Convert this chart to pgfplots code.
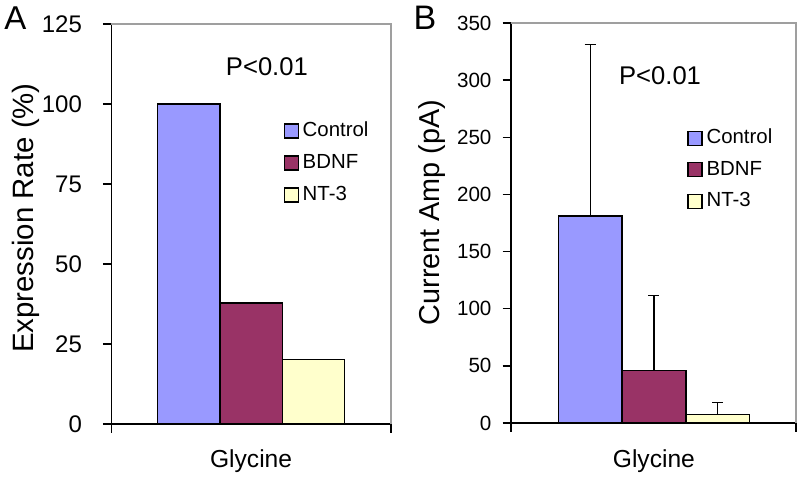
\documentclass[border=0pt]{standalone}
\usepackage{pgfplots}
\pgfplotsset{compat=1.18}
\usepackage{fontspec}
\setmainfont{Liberation Sans}
\definecolor{ctrl}{HTML}{9999FF}
\definecolor{bdnf}{HTML}{993366}
\definecolor{ntc}{HTML}{FFFFCC}
\pgfplotsset{
  sq/.style={legend image code/.code={\draw[##1, line width=0.6pt] (0pt,-3.5pt) rectangle (7pt,3.5pt);}},
  mybar/.style={ybar, bar width=1, bar shift=0pt, draw=black, line width=0.7pt, sq},
  myaxis/.style={
    scale only axis,
    axis x line*=bottom, axis y line*=left,
    axis line style={-, line width=0.7pt, black},
    tick align=outside,
    major tick length=4.25pt,
    every tick/.style={black, line width=0.7pt},
    ymin=0,
    xticklabels={},
    /pgf/number format/assume math mode=true,
    clip=false,
    legend cell align=left,
    legend style={draw=none, fill=none, anchor=north west, inner sep=0pt,
      font=\fontsize{10.2}{12}\selectfont, row sep=6.5pt, column sep=2pt,
      nodes={inner sep=0pt, text height=7.5pt, text depth=2pt}},
  }
}
\begin{document}
\begin{tikzpicture}
% Panel A
\begin{axis}[myaxis,
  at={(55.75pt,-212pt)}, anchor=south west,
  width=139.75pt, height=200pt,
  xmin=-2.24, xmax=2.245, xtick={-2.24,2.245},
  ymax=125, ytick={0,25,50,75,100,125},
  yticklabel style={font=\fontsize{12}{14}\selectfont, xshift=-7pt},
  legend style={at={(rel axis cs:0.614,0.7575)}},
]
\draw[gray!75, line width=0.7pt] (rel axis cs:0,1) -- (rel axis cs:1,1) -- (rel axis cs:1,0);
\addplot[mybar, fill=ctrl] coordinates {(-1,100)};
\addplot[mybar, fill=bdnf] coordinates {(0,37.8)};
\addplot[mybar, fill=ntc] coordinates {(1,20.2)};
\legend{Control,BDNF,NT-3}
\node[font=\fontsize{12.8}{15}\selectfont] at (rel axis cs:0.556,0.8925) {P<0.01};
\node[font=\fontsize{12.3}{14}\selectfont, anchor=base] at (axis cs:0,0) [yshift=-21.5pt] {Glycine};
\end{axis}
% Panel B
\begin{axis}[myaxis,
  at={(255.5pt,-211.5pt)}, anchor=south west,
  width=142.5pt, height=200pt,
  xmin=-2.24, xmax=2.227, xtick={-2.24,2.227},
  ymax=350, ytick={0,50,100,150,200,250,300,350},
  yticklabel style={font=\fontsize{10.3}{12}\selectfont, xshift=-2pt},
  legend style={at={(rel axis cs:0.6175,0.7365)}, row sep=6.25pt},
  error bars/y dir=plus, error bars/y explicit,
  error bars/error bar style={line width=0.6pt, black},
  error bars/error mark options={rotate=90, line width=0.6pt, black, mark size=2.75pt},
]
\draw[gray!75, line width=0.7pt] (rel axis cs:0,1) -- (rel axis cs:1,1) -- (rel axis cs:1,0);
\addplot[mybar, fill=ctrl] coordinates {(-1,181) +- (0,150)};
\addplot[mybar, fill=bdnf] coordinates {(0,46) +- (0,65.5)};
\addplot[mybar, fill=ntc] coordinates {(1,7.6) +- (0,10.2)};
\legend{Control,BDNF,NT-3}
\node[font=\fontsize{12.8}{15}\selectfont] at (rel axis cs:0.523,0.8675) {P<0.01};
\node[font=\fontsize{12.3}{14}\selectfont, anchor=base] at (axis cs:0,0) [yshift=-22.3pt] {Glycine};
\end{axis}
% Axis titles and panel letters
\node[font=\fontsize{14.7}{16}\selectfont, rotate=90, anchor=base] at (16.5pt,-109pt) {Expression Rate (\%)};
\node[font=\fontsize{14.4}{16}\selectfont, rotate=90, anchor=base] at (219.75pt,-106.25pt) {Current Amp (pA)};
\node[font=\fontsize{16.5}{18}\selectfont] at (7.75pt,-9pt) {A};
\node[font=\fontsize{17}{19}\selectfont] at (212.5pt,-8.75pt) {B};
\pgfresetboundingbox
\path (0,0) rectangle (400pt,-239pt);
\end{tikzpicture}
\end{document}
